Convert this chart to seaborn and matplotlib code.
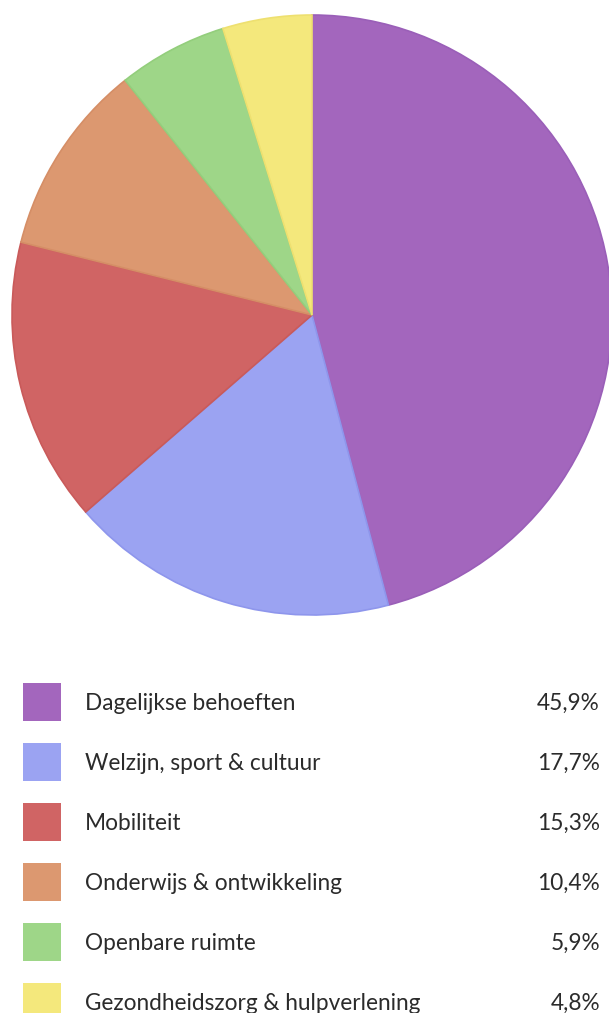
import matplotlib
matplotlib.use("Agg")
import matplotlib.pyplot as plt
import seaborn as sns

# data
categories = [
    "Dagelijkse behoeften",
    "Welzijn, sport & cultuur",
    "Mobiliteit",
    "Onderwijs & ontwikkeling",
    "Openbare ruimte",
    "Gezondheidszorg & hulpverlening",
]
shares = [45.9, 17.7, 15.3, 10.4, 5.9, 4.8]
share_labels = ["45,9%", "17,7%", "15,3%", "10,4%", "5,9%", "4,8%"]
colors = ["#A366BD", "#9BA3F2", "#D06464", "#DC9870", "#9ED688", "#F4E87C"]
edge_colors = ["#9A5FB8", "#8E96EC", "#C95A5A", "#D58E66", "#93CE7C", "#EEE070"]

sns.set_theme(style="white")
plt.rcParams["font.family"] = ["Lato", "DejaVu Sans"]

W, H = 609, 1013
fig = plt.figure(figsize=(W / 100, H / 100), dpi=100)

# pie
ax = fig.add_axes([12 / W, (H - 615) / H, 600 / W, 600 / H])
wedges, _ = ax.pie(
    shares,
    colors=colors,
    startangle=90,
    counterclock=False,
    radius=1,
    wedgeprops={"linewidth": 1.2},
)
for w, ec in zip(wedges, edge_colors):
    w.set_edgecolor(ec)
ax.set_xlim(-1, 1)
ax.set_ylim(-1, 1)
ax.set_aspect("equal")
ax.axis("off")

# legend table
lg = fig.add_axes([0, 0, 1, (H - 672) / H])
n = len(categories)
rows = list(range(n))
sns.scatterplot(
    x=[42] * n, y=rows, hue=categories, palette=colors, marker="s",
    s=(38 * 0.72) ** 2, linewidth=0, legend=False, ax=lg, clip_on=False,
)
for i, (cat, lab) in enumerate(zip(categories, share_labels)):
    lg.text(85, i + 0.03, cat, va="center", ha="left", fontsize=16.3, color="#2b2b2b")
    lg.text(600, i + 0.03, lab, va="center", ha="right", fontsize=16.3, color="#2b2b2b")
lg.set_xlim(0, W)
lg.set_ylim(-0.5 + 341 / 60, -0.5)
lg.axis("off")

fig.savefig("out.png", dpi=100, facecolor="white")
